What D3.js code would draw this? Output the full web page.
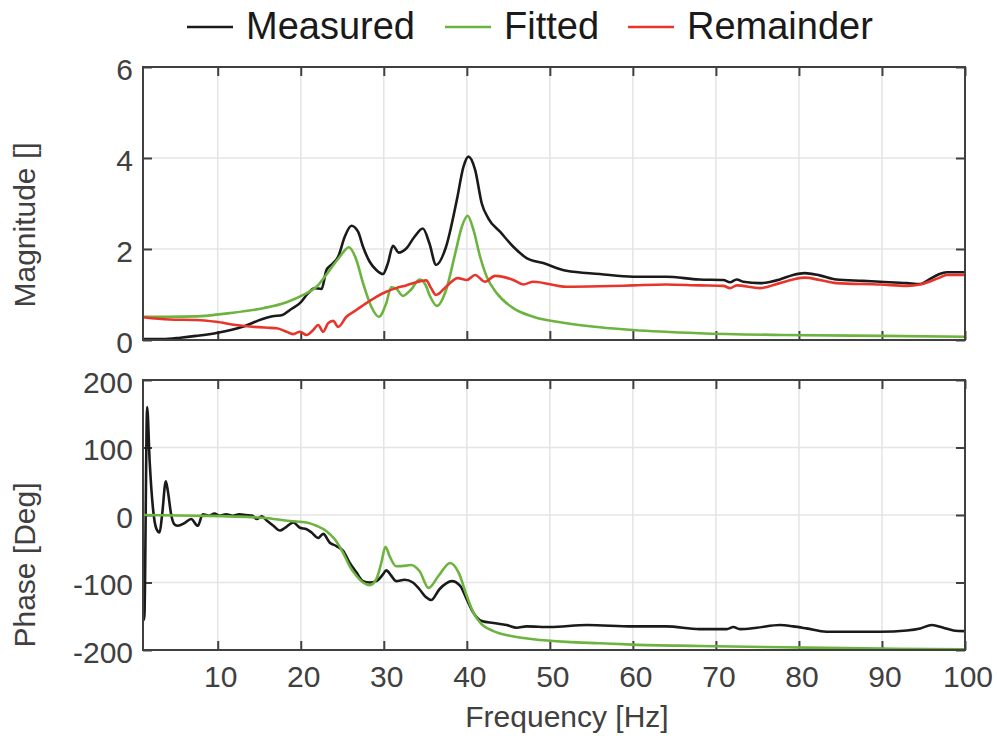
<!DOCTYPE html>
<html>
<head>
<meta charset="utf-8">
<script src="https://cdn.jsdelivr.net/npm/d3@7"></script>
<style>
  html, body { margin: 0; padding: 0; background: #ffffff; }
  svg { display: block; font-family: Arial, "Liberation Sans", Helvetica, sans-serif; }
</style>
</head>
<body>
<svg id="chart" width="997" height="736"></svg>
<script>
// ---- Data -------------------------------------------------------------
// Magnitude response (frequency in Hz, magnitude unitless)
const measuredMagFreq = [1, 3.4, 5.5, 7.4, 10, 13, 15.4, 16.6, 17.8, 18.7, 19.9, 20.9, 21.7, 22.5, 23.1, 23.9, 24.5, 25.3, 26.1, 26.9, 27.5, 28.3, 29.1, 29.9, 30.5, 31.1, 31.8, 32.7, 33.7, 34.7, 35.5, 36.3, 37.5, 38.8, 39.6, 40.2, 41.0, 41.8, 42.6, 44.0, 45.6, 47.2, 49.2, 52, 56, 60, 64, 68, 70.9, 71.7, 72.5, 73.3, 75.3, 77.7, 79.3, 80.7, 82.5, 84.5, 87.7, 89.8, 93, 94.6, 95.6, 96.8, 97.8, 100];
const measuredMag     = [0.02, 0.02, 0.05, 0.09, 0.16, 0.29, 0.46, 0.52, 0.55, 0.66, 0.81, 1.03, 1.14, 1.12, 1.54, 1.69, 1.83, 2.27, 2.51, 2.38, 2.05, 1.72, 1.54, 1.45, 1.69, 2.07, 1.92, 2.01, 2.27, 2.45, 2.12, 1.65, 2.05, 3.08, 3.81, 4.03, 3.74, 3.0, 2.67, 2.38, 2.05, 1.80, 1.69, 1.52, 1.45, 1.39, 1.39, 1.33, 1.32, 1.27, 1.33, 1.28, 1.25, 1.33, 1.43, 1.47, 1.42, 1.33, 1.30, 1.28, 1.25, 1.23, 1.32, 1.44, 1.49, 1.49];

const fittedMagFreq = [1, 4, 7.4, 11.4, 15.5, 18.3, 20.3, 21.9, 23.5, 24.7, 25.8, 26.7, 27.5, 28.5, 29.4, 30.3, 30.9, 31.5, 32.3, 33.3, 34.3, 35.0, 35.6, 36.4, 37.5, 38.6, 39.4, 40.1, 40.8, 41.6, 42.4, 43.6, 45.6, 48, 52, 56, 60, 68, 78, 90, 100];
const fittedMag     = [0.51, 0.51, 0.52, 0.59, 0.70, 0.83, 0.99, 1.17, 1.54, 1.83, 2.04, 1.76, 1.25, 0.73, 0.51, 0.81, 1.16, 1.13, 0.97, 1.11, 1.33, 1.22, 0.95, 0.75, 1.10, 1.90, 2.49, 2.73, 2.42, 1.83, 1.39, 1.03, 0.70, 0.51, 0.37, 0.28, 0.22, 0.15, 0.11, 0.09, 0.07];

const remainderMagFreq = [1, 4.2, 7.4, 9.8, 12.2, 14.2, 16, 17.1, 18.3, 19.1, 19.9, 20.7, 21.5, 22.1, 22.7, 23.3, 23.9, 24.5, 25.5, 26.7, 27.9, 29.1, 30.3, 31.5, 32.7, 33.9, 35.1, 35.7, 36.3, 37.5, 38.9, 40.0, 41.0, 42.2, 43.4, 45.6, 46.8, 48, 52, 56, 60, 64, 68, 70.9, 71.7, 72.5, 75.3, 77.7, 79.3, 80.7, 82.5, 84.5, 89.8, 93, 94.6, 96.8, 97.8, 100];
const remainderMag     = [0.50, 0.45, 0.44, 0.40, 0.33, 0.29, 0.27, 0.26, 0.18, 0.13, 0.18, 0.11, 0.22, 0.33, 0.18, 0.37, 0.42, 0.29, 0.51, 0.66, 0.81, 0.95, 1.06, 1.14, 1.20, 1.27, 1.31, 1.14, 0.99, 1.17, 1.36, 1.32, 1.43, 1.28, 1.41, 1.32, 1.22, 1.28, 1.17, 1.18, 1.20, 1.22, 1.20, 1.19, 1.14, 1.20, 1.14, 1.25, 1.33, 1.37, 1.32, 1.25, 1.22, 1.19, 1.22, 1.36, 1.43, 1.43];

// Phase response (degrees)
const measuredPhaseFreq = [1.0, 1.15, 1.5, 1.8, 2.2, 2.6, 3.0, 3.3, 3.75, 4.0, 4.4, 4.8, 5.2, 6.0, 6.8, 7.6, 8.2, 9.0, 9.6, 10.2, 11.0, 11.8, 12.6, 13.4, 14.2, 14.7, 15.3, 15.9, 16.7, 17.5, 18.1, 19.1, 19.9, 20.7, 21.3, 22.1, 22.7, 23.5, 24.3, 25.1, 25.9, 26.7, 27.5, 28.3, 29.1, 29.9, 30.3, 30.9, 31.5, 32.5, 33.5, 34.3, 35.1, 35.7, 36.7, 38.2, 39.2, 40.0, 40.8, 41.8, 43.2, 44.8, 46.0, 47.2, 50, 54.5, 60, 64, 68, 71.3, 72.1, 72.9, 74.9, 77.7, 79.3, 80.9, 83.3, 86.5, 89.8, 93, 94.6, 96.0, 97.4, 98.6, 100];
const measuredPhase     = [-125, -155, 160, 80, 10, -20, -26, 0, 50, 35, 0, -14, -16, -12, -6, -16, 1, -1, 2, -1, 1, -1, 1, 0, -1, -6, -2, -8, -16, -23, -19, -11, -19, -21, -26, -34, -28, -41, -46, -53, -71, -85, -98, -100, -98, -88, -82, -90, -98, -96, -100, -110, -122, -126, -110, -98, -105, -125, -145, -157, -160, -163, -167, -165, -166, -163, -165, -165, -169, -169, -166, -169, -167, -163, -165, -168, -173, -173, -173, -171, -168, -163, -167, -171, -172];

const fittedPhaseFreq = [1, 7.4, 15.4, 18.7, 20.7, 21.9, 23.1, 24.1, 25.1, 25.9, 26.7, 27.5, 28.3, 29.1, 29.7, 30.2, 30.7, 31.5, 32.7, 33.3, 34.3, 35.4, 36.6, 38.0, 39.0, 40.0, 40.8, 41.8, 43.2, 45.2, 48, 52, 56, 60, 68, 78, 90, 100];
const fittedPhase     = [0, -1, -4, -9, -11, -16, -24, -36, -56, -76, -90, -100, -104, -95, -71, -47, -61, -76, -75, -74, -83, -108, -90, -71, -85, -120, -145, -162, -172, -179, -184, -188, -190, -192, -194, -196, -198, -199];

// Axis ticks and labels
const freqTicks  = [10, 20, 30, 40, 50, 60, 70, 80, 90, 100];
const magTicks   = [0, 2, 4, 6];
const phaseTicks = [-200, -100, 0, 100, 200];

const seriesNames  = ["Measured", "Fitted", "Remainder"];
const seriesColors = ["#1a1a1a", "#6cb33f", "#e8352b"];

// ---- Layout -----------------------------------------------------------
const svg = d3.select("#chart");
const plotLeft = 143, plotRight = 965;
const magTop = 67, magBottom = 340;
const phTop = 380, phBottom = 650;
const axisColor = "#404040";
const gridColor = "#e4e4e4";
const tickFont = 30;

const x = d3.scaleLinear().domain([1, 100]).range([plotLeft, plotRight]);
const yMag = d3.scaleLinear().domain([0, 6]).range([magBottom, magTop]);
const yPh = d3.scaleLinear().domain([-200, 200]).range([phBottom, phTop]);

function zip(fs, vs) { return fs.map((f, i) => ({ f, v: vs[i] })); }

function drawPanel(yScale, top, bottom, yTicks, showXLabels) {
  const g = svg.append("g");

  // grid
  g.append("g").selectAll("line").data(freqTicks.filter(t => t < 100)).join("line")
    .attr("x1", d => x(d)).attr("x2", d => x(d))
    .attr("y1", top).attr("y2", bottom)
    .attr("stroke", gridColor).attr("stroke-width", 1.5);
  g.append("g").selectAll("line").data(yTicks.slice(1, -1)).join("line")
    .attr("x1", plotLeft).attr("x2", plotRight)
    .attr("y1", d => yScale(d)).attr("y2", d => yScale(d))
    .attr("stroke", gridColor).attr("stroke-width", 1.5);

  // inward ticks on all four sides (boxed axes)
  const tl = 9;
  const axes = [
    d3.axisBottom(x).tickValues(freqTicks).tickSize(tl).tickFormat(""),
    d3.axisTop(x).tickValues(freqTicks).tickSize(tl).tickFormat(""),
    d3.axisLeft(yScale).tickValues(yTicks).tickSize(tl).tickFormat(""),
    d3.axisRight(yScale).tickValues(yTicks).tickSize(tl).tickFormat("")
  ];
  const shifts = [`translate(0,${top})`, `translate(0,${bottom})`, `translate(${plotRight},0)`, `translate(${plotLeft},0)`];
  axes.forEach((ax, i) => {
    const a = g.append("g").attr("transform", shifts[i]).call(ax);
    a.select(".domain").remove();
    a.selectAll("line").attr("stroke", axisColor).attr("stroke-width", 2);
  });

  // y tick labels
  g.append("g").selectAll("text").data(yTicks).join("text")
    .attr("x", plotLeft - 10).attr("y", d => yScale(d) + 2)
    .attr("text-anchor", "end").attr("dominant-baseline", "central")
    .attr("font-size", tickFont).attr("fill", axisColor)
    .text(d => d);

  if (showXLabels) {
    g.append("g").selectAll("text").data(freqTicks).join("text")
      .attr("x", d => x(d) + 3).attr("y", bottom + 37)
      .attr("text-anchor", "middle")
      .attr("font-size", tickFont).attr("fill", axisColor)
      .text(d => d);
  }
  return g;
}

const magPanel = drawPanel(yMag, magTop, magBottom, magTicks, false);
const phPanel = drawPanel(yPh, phTop, phBottom, phaseTicks, true);

// ---- Curves -----------------------------------------------------------
const clipMag = svg.append("clipPath").attr("id", "clipMag")
  .append("rect").attr("x", plotLeft).attr("y", magTop)
  .attr("width", plotRight - plotLeft).attr("height", magBottom - magTop);
const clipPh = svg.append("clipPath").attr("id", "clipPh")
  .append("rect").attr("x", plotLeft).attr("y", phTop)
  .attr("width", plotRight - plotLeft).attr("height", phBottom - phTop);

function curve(yScale) {
  return d3.line().x(d => x(d.f)).y(d => yScale(d.v)).curve(d3.curveMonotoneX);
}

const magSeries = [
  zip(measuredMagFreq, measuredMag),
  zip(fittedMagFreq, fittedMag),
  zip(remainderMagFreq, remainderMag)
];
const magG = svg.append("g").attr("clip-path", "url(#clipMag)");
magSeries.forEach((s, i) => {
  magG.append("path").datum(s)
    .attr("d", curve(yMag))
    .attr("fill", "none").attr("stroke", seriesColors[i])
    .attr("stroke-width", 2.6).attr("stroke-linejoin", "round");
});

const phSeries = [
  zip(measuredPhaseFreq, measuredPhase),
  zip(fittedPhaseFreq, fittedPhase)
];
const phG = svg.append("g").attr("clip-path", "url(#clipPh)");
phSeries.forEach((s, i) => {
  phG.append("path").datum(s)
    .attr("d", curve(yPh))
    .attr("fill", "none").attr("stroke", seriesColors[i])
    .attr("stroke-width", 2.6).attr("stroke-linejoin", "round");
});

// ---- Frames (drawn last so they sit above the curves) -----------------
[[magTop, magBottom], [phTop, phBottom]].forEach(([t, b]) => {
  svg.append("rect")
    .attr("x", plotLeft).attr("y", t)
    .attr("width", plotRight - plotLeft).attr("height", b - t)
    .attr("fill", "none").attr("stroke", axisColor).attr("stroke-width", 2);
});

// ---- Axis titles ------------------------------------------------------
svg.append("text")
  .attr("transform", "translate(35,225) rotate(-90)")
  .attr("text-anchor", "middle").attr("font-size", tickFont).attr("fill", axisColor)
  .text("Magnitude []");
svg.append("text")
  .attr("transform", "translate(35,565) rotate(-90)")
  .attr("text-anchor", "middle").attr("font-size", tickFont).attr("fill", axisColor)
  .text("Phase [Deg]");
svg.append("text")
  .attr("x", 567).attr("y", 727)
  .attr("text-anchor", "middle").attr("font-size", tickFont).attr("fill", axisColor)
  .text("Frequency [Hz]");

// ---- Legend -----------------------------------------------------------
const legendX = [187, 445, 628];
const legend = svg.append("g");
seriesNames.forEach((name, i) => {
  legend.append("line")
    .attr("x1", legendX[i]).attr("x2", legendX[i] + 46)
    .attr("y1", 27).attr("y2", 27)
    .attr("stroke", seriesColors[i]).attr("stroke-width", 2.6);
  legend.append("text")
    .attr("x", legendX[i] + 59).attr("y", 39)
    .attr("font-size", 38).attr("fill", "#1a1a1a")
    .text(name);
});
</script>
</body>
</html>
